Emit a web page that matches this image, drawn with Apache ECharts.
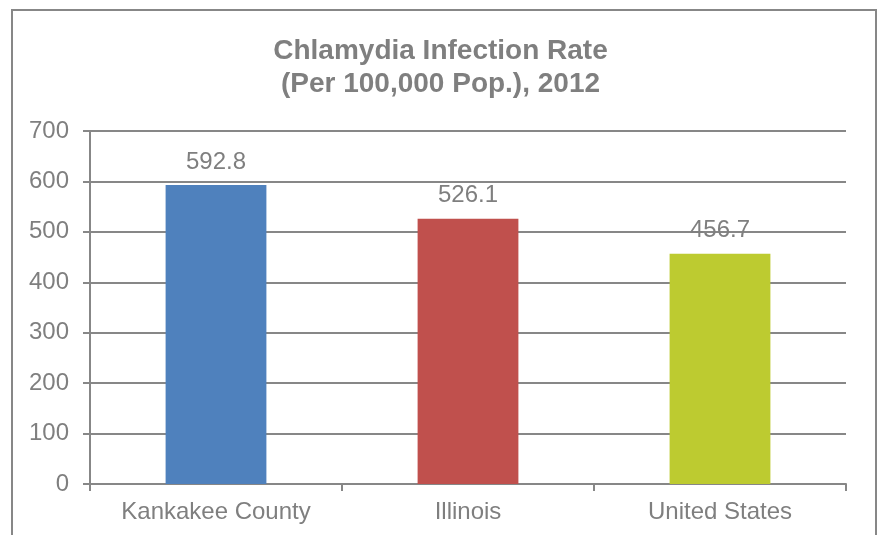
<!DOCTYPE html>
<html><head><meta charset="utf-8">
<script src="https://cdn.jsdelivr.net/npm/echarts@6/dist/echarts.min.js"></script>
<style>html,body{margin:0;padding:0;background:#fff}#c{width:881px;height:535px}</style>
</head><body><div id="c"></div>
<script>
const categories = ["Kankakee County", "Illinois", "United States"];
const values = [592.8, 526.1, 456.7];
const barColors = ["#4F81BD", "#C0504D", "#BDCB30"];
const yTicks = [0, 100, 200, 300, 400, 500, 600, 700];

const chart = echarts.init(document.getElementById('c'));
chart.setOption({
  animation: false,
  backgroundColor: '#fff',
  title: {
    text: 'Chlamydia Infection Rate\n(Per 100,000 Pop.), 2012',
    left: 'center', top: 30,
    textStyle: { fontFamily: 'Liberation Sans, Arial', fontSize: 28, fontWeight: 'bold', color: '#7f7f7f', lineHeight: 33 }
  },
  graphic: [{
    type: 'rect', shape: { x: 12, y: 10, width: 864, height: 540 },
    style: { fill: 'none', stroke: '#878787', lineWidth: 2 }, silent: true
  }],
  grid: { left: 90, right: 35, top: 131, bottom: 51 },
  xAxis: {
    type: 'category', data: categories,
    axisLine: { lineStyle: { color: '#878787', width: 2 } },
    axisTick: { show: true, length: 7, lineStyle: { color: '#878787', width: 2 } },
    axisLabel: { color: '#7f7f7f', fontSize: 24, fontFamily: 'Liberation Sans, Arial', margin: 16 }
  },
  yAxis: {
    type: 'value', min: yTicks[0], max: yTicks[yTicks.length - 1], interval: 100,
    axisLine: { show: true, lineStyle: { color: '#878787', width: 2 } },
    axisTick: { show: true, length: 7, lineStyle: { color: '#878787', width: 2 } },
    splitLine: { lineStyle: { color: '#878787', width: 2 } },
    axisLabel: { color: '#7f7f7f', fontSize: 24, fontFamily: 'Liberation Sans, Arial', margin: 21 }
  },
  series: [{
    type: 'bar', barWidth: '40%',
    data: values.map((v, i) => ({ value: v, itemStyle: { color: barColors[i] } })),
    label: { show: true, position: 'top', distance: 11, color: '#7f7f7f', fontSize: 24, fontFamily: 'Liberation Sans, Arial', formatter: p => p.value.toFixed(1) }
  }]
});
</script></body></html>
